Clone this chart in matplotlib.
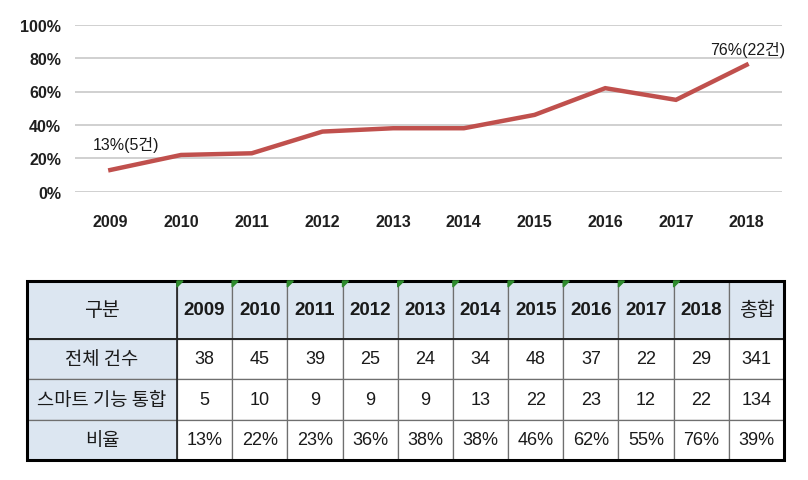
import matplotlib
matplotlib.use("Agg")
import matplotlib.pyplot as plt
from matplotlib import font_manager
from matplotlib.patches import Polygon, Rectangle
import numpy as np

# ---------------- data ----------------
years = ["2009", "2010", "2011", "2012", "2013", "2014", "2015", "2016", "2017", "2018"]
total_counts = [38, 45, 39, 25, 24, 34, 48, 37, 22, 29]
smart_counts = [5, 10, 9, 9, 9, 13, 22, 23, 12, 22]
rates = [13, 22, 23, 36, 38, 38, 46, 62, 55, 76]
sum_total = 341
sum_smart = 134
sum_rate = 39
row_labels = ["전체 건수", "스마트 기능 통합", "비율"]
corner_label = "구분"
sum_label = "총합"
count_unit = "건"
y_ticks = [0, 20, 40, 60, 80, 100]

# ---------------- fonts ----------------
names = {f.name for f in font_manager.fontManager.ttflist}
narrow = "Liberation Sans Narrow" if "Liberation Sans Narrow" in names else "Liberation Sans"
FAM = [narrow, "Noto Sans CJK KR", "DejaVu Sans"]
KFAM = ["Noto Sans CJK KR", "DejaVu Sans"]
plt.rcParams["font.family"] = FAM

fig = plt.figure(figsize=(8.08, 4.81), dpi=100)
W, H = 808, 481

# ---------------- line chart ----------------
ax = fig.add_axes([75 / W, 1 - 192.7 / H, (782 - 75) / W, (192.7 - 25.7) / H])
x = np.arange(len(years))
ax.set_xlim(-0.5, len(years) - 0.5)
ax.set_ylim(0, 100)
ax.set_yticks(y_ticks)
ax.set_yticklabels([f"{v}%" for v in y_ticks], fontsize=11.5, fontweight="bold", color="#1f1f1f")
ax.set_xticks(x)
ax.set_xticklabels(years, fontsize=11.5, fontweight="bold", color="#1f1f1f")
ax.tick_params(axis="both", length=0)
ax.tick_params(axis="y", pad=10)
ax.tick_params(axis="x", pad=16)
for s in ax.spines.values():
    s.set_visible(False)
ax.grid(axis="y", color="#d0d0d0", lw=1.4)
ax.set_axisbelow(True)
ax.plot(x, rates, color="#c0504d", lw=3.2, solid_joinstyle="miter", zorder=3)

ax.annotate(f"{rates[0]}%({smart_counts[0]}{count_unit})", xy=(x[0], rates[0]),
            xytext=(11, 19), textcoords="offset points", ha="center", va="center",
            fontsize=11.5, color="#1a1a1a", family=FAM)
ax.annotate(f"{rates[-1]}%({smart_counts[-1]}{count_unit})", xy=(x[-1], rates[-1]),
            xytext=(1, 11.5), textcoords="offset points", ha="center", va="center",
            fontsize=11.5, color="#1a1a1a", family=FAM)

# ---------------- table ----------------
tx0, tx1, ty0, ty1 = 27, 784, 282, 461
tax = fig.add_axes([tx0 / W, 1 - ty1 / H, (tx1 - tx0) / W, (ty1 - ty0) / H])
tax.set_axis_off()

header = [corner_label] + years + [sum_label]
body = [
    [row_labels[0]] + [str(v) for v in total_counts] + [str(sum_total)],
    [row_labels[1]] + [str(v) for v in smart_counts] + [str(sum_smart)],
    [row_labels[2]] + [f"{v}%" for v in rates] + [f"{sum_rate}%"],
]
cells = [header] + body
first_w = 150.0
col_w = 55.2
widths = [first_w] + [col_w] * (len(years) + 1)
heights = [58.0, 40.0, 41.0, 40.0]
tw = sum(widths)
th = sum(heights)

tbl = tax.table(cellText=cells, cellLoc="center", colWidths=[w / tw for w in widths],
                bbox=[0, 0, 1, 1])
tbl.auto_set_font_size(False)
hdr_bg = "#dce6f1"
for (r, c), cell in tbl.get_celld().items():
    cell.set_height(heights[r] / th)
    cell.set_edgecolor("#6f6f6f")
    cell.set_linewidth(0.9)
    t = cell.get_text()
    if r == 0 or c == 0:
        cell.set_facecolor(hdr_bg)
    else:
        cell.set_facecolor("white")
    if r == 0 and 1 <= c <= len(years):
        t.set_fontsize(13.5)
        t.set_fontweight("bold")
        t.set_family(FAM)
    elif r == 0 or c == 0:
        t.set_fontsize(14 if r == 0 else 13.5)
        t.set_family(KFAM)
    else:
        t.set_fontsize(13)
        t.set_family(FAM)
    t.set_color("#1a1a1a")

# stronger separators and outer border
xs = np.cumsum([0] + widths) / tw
ys = 1 - np.cumsum([0] + heights) / th
tax.plot([0, 1], [ys[1], ys[1]], color="#222222", lw=1.4, transform=tax.transAxes, clip_on=False, zorder=5)
tax.plot([xs[1], xs[1]], [0, 1], color="#222222", lw=1.2, transform=tax.transAxes, clip_on=False, zorder=5)
tax.add_patch(Rectangle((0, 0), 1, 1, transform=tax.transAxes, fill=False, ec="black", lw=2.2,
                        clip_on=False, zorder=6))
# green error-indicator triangles on year headers
dx = 6 / (tx1 - tx0)
dy = 6 / (ty1 - ty0)
for i in range(1, len(years) + 1):
    tax.add_patch(Polygon([[xs[i], 1], [xs[i] + dx, 1], [xs[i], 1 - dy]], closed=True,
                          transform=tax.transAxes, color="#2e8b2e", clip_on=False, zorder=7))

fig.savefig("out.png", dpi=100)
